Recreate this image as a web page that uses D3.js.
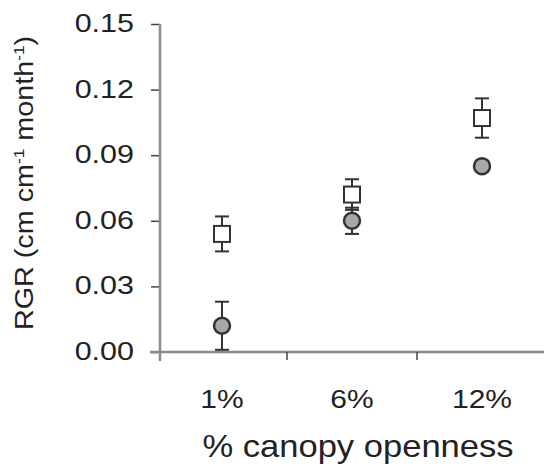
<!DOCTYPE html>
<html>
<head>
<meta charset="utf-8">
<script src="https://cdn.jsdelivr.net/npm/d3@7"></script>
<style>
  body { margin: 0; background: #fff; }
  text { font-family: "Liberation Sans", Arial, sans-serif; fill: #222; }
</style>
</head>
<body>
<div id="chart"></div>
<script>
// data
var categories = ['1%', '6%', '12%'];
var squareMean = [0.054, 0.072, 0.107];
var squareErr = [0.008, 0.007, 0.009];
var circleMean = [0.012, 0.060, 0.085];
var circleErr = [0.011, 0.006, 0.002];
var yTicks = [0, 0.03, 0.06, 0.09, 0.12, 0.15];

var width = 544, height = 467;
var axisX = 160, axisY = 352;

var svg = d3.select('#chart').append('svg')
    .attr('width', width)
    .attr('height', height);

var x = d3.scaleBand()
    .domain(categories)
    .range([157, 547])
    .padding(0);

var y = d3.scaleLinear()
    .domain([0, 0.15])
    .range([axisY, 24]);

// stretch for the wide lettering of the original
function wide(sx) {
    return function (sel) { sel.attr('transform', function () {
        var t = d3.select(this);
        return 'translate(' + t.attr('data-x') + ',' + t.attr('data-y') + ')' + (t.attr('data-r') || '') + ' scale(' + sx + ',1)';
    }); };
}

// y axis
var yAxis = svg.append('g')
    .attr('transform', 'translate(' + axisX + ',0)')
    .call(d3.axisLeft(y).tickValues(yTicks).tickSize(9).tickFormat(''));
yAxis.select('.domain').remove();
yAxis.selectAll('.tick line').attr('stroke', '#444').attr('stroke-width', 1.5);
svg.append('line')
    .attr('x1', axisX).attr('x2', axisX)
    .attr('y1', y(0.15)).attr('y2', axisY + 9)
    .attr('stroke', '#8a8a8a').attr('stroke-width', 2.5);

svg.selectAll('.ylab')
    .data(yTicks)
    .enter().append('text')
    .attr('class', 'ylab')
    .attr('data-x', 134)
    .attr('data-y', function (d) { return y(d) + 8; })
    .attr('text-anchor', 'end')
    .style('font-size', '25px')
    .text(function (d) { return d3.format('.2f')(d); })
    .call(wide(1.22));

// x axis
svg.append('line')
    .attr('x1', 150).attr('x2', width)
    .attr('y1', axisY).attr('y2', axisY)
    .attr('stroke', '#8a8a8a').attr('stroke-width', 2.5);

svg.selectAll('.xtick')
    .data(categories.slice(0, -1))
    .enter().append('line')
    .attr('class', 'xtick')
    .attr('x1', function (d) { return x(d) + x.bandwidth(); })
    .attr('x2', function (d) { return x(d) + x.bandwidth(); })
    .attr('y1', axisY).attr('y2', axisY + 8)
    .attr('stroke', '#444').attr('stroke-width', 1.5);

svg.selectAll('.xlab')
    .data(categories)
    .enter().append('text')
    .attr('class', 'xlab')
    .attr('data-x', function (d) { return x(d) + x.bandwidth() / 2; })
    .attr('data-y', 408)
    .attr('text-anchor', 'middle')
    .style('font-size', '25px')
    .text(function (d) { return d; })
    .call(wide(1.2));

// axis titles
svg.append('text')
    .attr('data-x', 358).attr('data-y', 457)
    .attr('text-anchor', 'middle')
    .style('font-size', '32px')
    .text('% canopy openness')
    .call(wide(1.08));

var yt = svg.append('text')
    .attr('data-x', 33).attr('data-y', 183)
    .attr('data-r', ' rotate(-90)')
    .attr('text-anchor', 'middle')
    .style('font-size', '25px');
yt.append('tspan').text('RGR (cm cm');
yt.append('tspan').attr('dy', -9).style('font-size', '15px').text('-1');
yt.append('tspan').attr('dy', 9).text(' month');
yt.append('tspan').attr('dy', -9).style('font-size', '15px').text('-1');
yt.append('tspan').attr('dy', 9).text(')');
yt.call(wide(1.15));

// error bars + markers
function series(means, errs, kind) {
    var rows = categories.map(function (c, i) { return { c: c, m: means[i], e: errs[i] }; });
    var g = svg.append('g');
    var cx = function (d) { return x(d.c) + x.bandwidth() / 2; };
    g.selectAll('.eb')
        .data(rows).enter().append('line')
        .attr('x1', cx).attr('x2', cx)
        .attr('y1', function (d) { return y(d.m - d.e); })
        .attr('y2', function (d) { return y(d.m + d.e); })
        .attr('stroke', '#333').attr('stroke-width', 2);
    [-1, 1].forEach(function (s) {
        g.selectAll('.cap' + s)
            .data(rows).enter().append('line')
            .attr('x1', function (d) { return cx(d) - 7; })
            .attr('x2', function (d) { return cx(d) + 7; })
            .attr('y1', function (d) { return y(d.m + s * d.e); })
            .attr('y2', function (d) { return y(d.m + s * d.e); })
            .attr('stroke', '#333').attr('stroke-width', 2);
    });
    if (kind === 'square') {
        g.selectAll('rect')
            .data(rows).enter().append('rect')
            .attr('x', function (d) { return cx(d) - 8; })
            .attr('y', function (d) { return y(d.m) - 8; })
            .attr('width', 16).attr('height', 16)
            .attr('fill', '#fff').attr('stroke', '#333').attr('stroke-width', 2);
    } else {
        g.selectAll('circle')
            .data(rows).enter().append('circle')
            .attr('cx', cx)
            .attr('cy', function (d) { return y(d.m); })
            .attr('r', 8)
            .attr('fill', '#a8a8a8').attr('stroke', '#333').attr('stroke-width', 2.5);
    }
}

series(squareMean, squareErr, 'square');
series(circleMean, circleErr, 'circle');
</script>
</body>
</html>
